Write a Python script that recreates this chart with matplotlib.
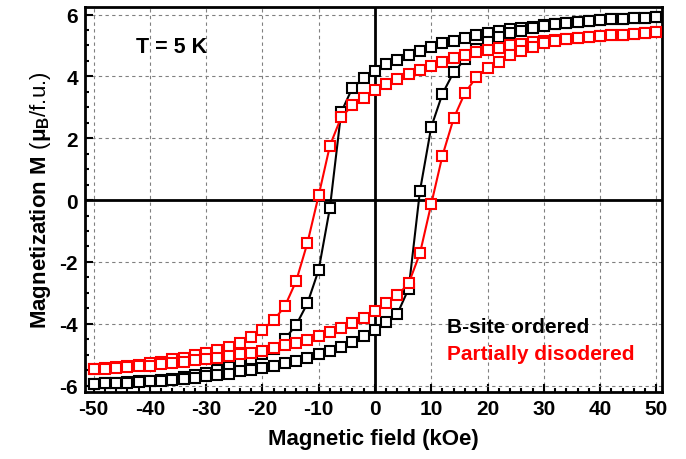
import matplotlib
matplotlib.use("Agg")
import matplotlib.pyplot as plt
from matplotlib.ticker import MultipleLocator

plt.rcParams["font.family"] = ["Liberation Sans", "DejaVu Sans"]
plt.rcParams["font.weight"] = "bold"
plt.rcParams["axes.unicode_minus"] = False
plt.rcParams["mathtext.fontset"] = "custom"
plt.rcParams["mathtext.rm"] = "Liberation Sans"
plt.rcParams["mathtext.it"] = "Liberation Sans"
plt.rcParams["mathtext.bf"] = "Liberation Sans:bold"

# field sweeps (kOe)
H_down = [50, 48, 46, 44, 42, 40, 38, 36, 34, 32, 30, 28, 26, 24, 22, 20, 18, 16, 14, 12, 10,
          8, 6, 4, 2, 0, -2, -4, -6, -8, -10, -12, -14, -16, -18, -20, -22, -24, -26, -28, -30,
          -32, -34, -36, -38, -40, -42, -44, -46, -48, -50]
H_up = [-50, -48, -46, -44, -42, -40, -38, -36, -34, -32, -30, -28, -26, -24, -22, -20, -18, -16, -14, -12, -10,
        -8, -6, -4, -2, 0, 2, 4, 6, 8, 10, 12, 14, 16, 18, 20, 22, 24, 26, 28, 30,
        32, 34, 36, 38, 40, 42, 44, 46, 48, 50]

# B-site ordered
M_ord_down = [5.92, 5.90, 5.89, 5.87, 5.84, 5.81, 5.78, 5.76, 5.73, 5.68, 5.65, 5.61, 5.57, 5.52, 5.46, 5.40,
              5.33, 5.24, 5.15, 5.07, 4.94, 4.81, 4.68, 4.54, 4.40, 4.18, 3.94, 3.63, 2.84, -0.25, -2.26,
              -3.34, -4.04, -4.49, -4.80, -4.98, -5.14, -5.28, -5.40, -5.50, -5.60, -5.66, -5.72, -5.77,
              -5.81, -5.84, -5.86, -5.89, -5.91, -5.92, -5.94]
M_ord_up = [-5.94, -5.92, -5.91, -5.90, -5.88, -5.86, -5.84, -5.81, -5.78, -5.74, -5.70, -5.65, -5.61, -5.54,
            -5.48, -5.42, -5.36, -5.28, -5.20, -5.09, -4.98, -4.88, -4.74, -4.59, -4.40, -4.19, -3.94, -3.67,
            -2.86, 0.30, 2.36, 3.44, 4.14, 4.55, 4.87, 5.10, 5.26, 5.39, 5.48, 5.56, 5.63, 5.68, 5.73, 5.76,
            5.79, 5.81, 5.84, 5.86, 5.89, 5.90, 5.92]

# Partially disordered
M_dis_down = [5.44, 5.41, 5.38, 5.35, 5.33, 5.30, 5.27, 5.24, 5.21, 5.17, 5.14, 5.10, 5.05, 5.00, 4.93, 4.86,
              4.79, 4.70, 4.59, 4.48, 4.35, 4.22, 4.08, 3.92, 3.76, 3.56, 3.31, 3.06, 2.68, 1.76, 0.15,
              -1.39, -2.62, -3.43, -3.89, -4.19, -4.42, -4.61, -4.74, -4.85, -4.94, -5.02, -5.09, -5.15,
              -5.22, -5.27, -5.32, -5.37, -5.41, -5.44, -5.46]
M_dis_up = [-5.46, -5.45, -5.43, -5.41, -5.38, -5.35, -5.31, -5.27, -5.23, -5.18, -5.13, -5.09, -5.03, -4.99,
            -4.94, -4.88, -4.78, -4.70, -4.61, -4.51, -4.40, -4.27, -4.13, -3.99, -3.80, -3.59, -3.34, -3.08,
            -2.69, -1.72, -0.13, 1.44, 2.65, 3.47, 3.97, 4.28, 4.48, 4.68, 4.82, 4.96, 5.08, 5.15, 5.20,
            5.24, 5.27, 5.30, 5.33, 5.35, 5.38, 5.41, 5.44]

fig = plt.figure(figsize=(6.86, 4.6), dpi=100)
ax = fig.add_axes([0.124, 0.146, 0.841, 0.837])

mk = dict(marker="s", markersize=7, markerfacecolor="white", markeredgewidth=1.5, linewidth=1.5)
ax.plot(H_down, M_ord_down, color="black", zorder=3, **mk)
ax.plot(H_up, M_ord_up, color="black", zorder=3, **mk)
ax.plot(H_down, M_dis_down, color="red", zorder=4, **mk)
ax.plot(H_up, M_dis_up, color="red", zorder=4, **mk)

ax.axhline(0, color="black", linewidth=2, zorder=2)
ax.axvline(0, color="black", linewidth=2, zorder=2)

ax.set_xlim(-51.5, 51)
ax.set_ylim(-6.2, 6.25)
ax.xaxis.set_major_locator(MultipleLocator(10))
ax.xaxis.set_minor_locator(MultipleLocator(2))
ax.yaxis.set_major_locator(MultipleLocator(2))
ax.yaxis.set_minor_locator(MultipleLocator(0.5))
ax.grid(True, which="major", color="gray", linestyle=(0, (3, 3)), linewidth=0.8, zorder=0)
ax.tick_params(which="both", direction="in", width=1.5, labelsize=15, pad=5)
ax.tick_params(which="major", length=6)
ax.tick_params(which="minor", length=3)
for s in ax.spines.values():
    s.set_linewidth(2)

ax.set_xlabel("Magnetic field (kOe)", fontsize=16, fontweight="bold", labelpad=7)
ax.set_ylabel(r"$\mathbf{Magnetization\ M}$ ($\mu_\mathrm{B}$/f.u.)", fontsize=16,
              fontweight="normal", labelpad=5)

ax.text(-42.4, 4.96, "T = 5 K", fontsize=15.5, fontweight="bold", va="center")
ax.text(12.8, -4.08, "B-site ordered", fontsize=15, fontweight="bold", color="black", va="center")
ax.text(12.8, -4.96, "Partially disodered", fontsize=15, fontweight="bold", color="red", va="center")

fig.savefig("out.png", dpi=100)
